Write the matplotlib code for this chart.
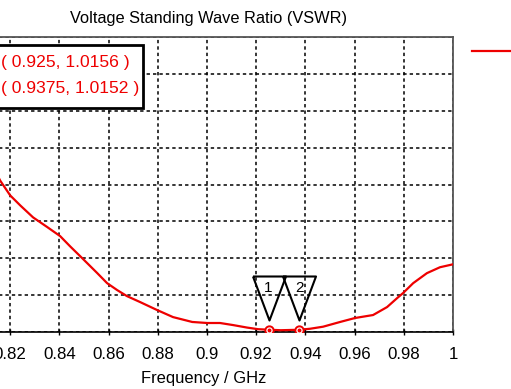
import numpy as np
import matplotlib
matplotlib.use("Agg")
import matplotlib.pyplot as plt
from matplotlib.patches import Rectangle

# ---------------- data ----------------
freq = [0.814, 0.8159, 0.82, 0.8241, 0.8293, 0.8350, 0.8403, 0.8444, 0.8493, 0.8554,
        0.8594, 0.8635, 0.8675, 0.8728, 0.8797, 0.8862, 0.8940, 0.9001, 0.9053, 0.9106,
        0.9163, 0.9208, 0.925, 0.93, 0.9375, 0.9419, 0.9472, 0.9541, 0.9602, 0.9675,
        0.9732, 0.9773, 0.9797, 0.9838, 0.9894, 0.9947, 1.0]
vswr = [2.09, 2.027, 1.926, 1.858, 1.777, 1.712, 1.650, 1.580, 1.500, 1.399,
        1.331, 1.284, 1.243, 1.203, 1.149, 1.101, 1.068, 1.061, 1.061, 1.047,
        1.030, 1.019, 1.0156, 1.012, 1.0152, 1.022, 1.036, 1.068, 1.095, 1.115,
        1.169, 1.230, 1.264, 1.331, 1.399, 1.439, 1.459]
marker_freq = [0.925, 0.9375]
marker_vswr = [1.0156, 1.0152]
marker_names = ["1", "2"]
marker_texts = ["( 0.925, 1.0156 )", "( 0.9375, 1.0152 )"]
xticks = [0.80, 0.82, 0.84, 0.86, 0.88, 0.90, 0.92, 0.94, 0.96, 0.98, 1.0]
xticklabels = ["0.8", "0.82", "0.84", "0.86", "0.88", "0.9", "0.92", "0.94", "0.96", "0.98", "1"]
yticks = [1.0, 1.25, 1.5, 1.75, 2.0, 2.25, 2.5, 2.75, 3.0]
title = "Voltage Standing Wave Ratio (VSWR)"
xlabel = "Frequency / GHz"

# ---------------- figure ----------------
W, H = 511, 389
fig = plt.figure(figsize=(W / 100, H / 100), dpi=100)
plt.rcParams['font.family'] = ['Liberation Sans', 'DejaVu Sans']

def fx(px):
    return px / W

def fy(py):
    return 1 - py / H

ax_l, ax_r, ax_t, ax_b = -39, 453, 37, 332
ax = fig.add_axes([fx(ax_l), fy(ax_b), fx(ax_r) - fx(ax_l), fy(ax_t) - fy(ax_b)])

red = "#ee0000"
line, = ax.plot(freq, vswr, color=red, lw=1.6, label="VSWR", zorder=3)

# marker circles
ax.plot(marker_freq, marker_vswr, 'o', ms=6, mfc='white', mec=red, mew=1.4, zorder=4)
ax.plot(marker_freq, marker_vswr, 'o', ms=1.8, mfc=red, mec=red, zorder=5)

# marker triangles (pixel offsets relative to the marker point)
tri = [(-16.5, 54), (16.5, 54), (0, 10), (-16.5, 54)]
ax.plot(marker_freq, marker_vswr, linestyle='none', marker=tri, ms=108 * 0.72,
        mfc='none', mec='black', mew=1.5, zorder=6)
for xm, ym, nm in zip(marker_freq, marker_vswr, marker_names):
    ax.annotate(nm, (xm, ym), xytext=(0, 42), textcoords='offset pixels',
                ha='center', va='center', fontsize=11, color='black')

ax.set_xlim(0.80, 1.0)
ax.set_ylim(1.0, 3.0)
ax.set_xticks(xticks)
ax.set_xticklabels(xticklabels)
ax.set_yticks(yticks)
ax.tick_params(axis='x', direction='inout', length=5, width=1, labelsize=12.2, pad=8)
ax.tick_params(axis='y', left=False, labelleft=False)
ax.grid(True, color='black', linestyle=(0, (2.2, 2.0)), lw=1.1)

for s in ['top', 'right']:
    ax.spines[s].set_color('#555555')
    ax.spines[s].set_linewidth(1.3)
ax.spines['bottom'].set_color('black')
ax.spines['bottom'].set_linewidth(1.2)
ax.spines['left'].set_visible(False)

fig.text(fx(208), fy(18), title, ha='center', va='center', fontsize=11.8)
fig.text(fx(204), fy(379), xlabel, ha='center', va='center', fontsize=11.9)

# marker info box
fig.patches.append(Rectangle((fx(-10), fy(108)), fx(143) - fx(-10), fy(45) - fy(108),
                             transform=fig.transFigure, fc='white', ec='black', lw=2,
                             zorder=10))
for py, txt in zip([62, 88], marker_texts):
    fig.text(fx(1), fy(py), txt, ha='left', va='center', fontsize=12.6, color=red, zorder=11)

# legend (label off the visible area)
leg = fig.legend(handles=[line], labels=["VSWR"], loc='center left',
                 bbox_to_anchor=(fx(472), fy(52.5)), frameon=False, handlelength=3.4,
                 borderpad=0, borderaxespad=0, handletextpad=0.6, fontsize=11.5)

fig.savefig("out.png", dpi=100)
